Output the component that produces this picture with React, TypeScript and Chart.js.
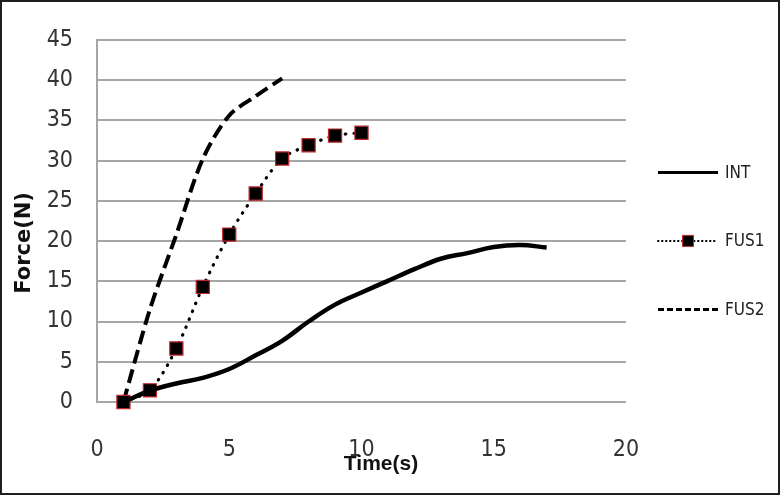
import React, { useEffect, useRef } from "react";
import { Chart, registerables } from "chart.js";

Chart.register(...registerables);

// ---- data ----
const INT_TIME = [1, 2, 3, 4, 5, 6, 7, 8, 9, 10, 11, 12, 13, 14, 15, 16, 17];
const INT_FORCE = [0, 1.4, 2.3, 3.0, 4.1, 5.8, 7.6, 10.0, 12.1, 13.6, 15.05, 16.5, 17.8, 18.5, 19.25, 19.5, 19.2];

const FUS1_TIME = [1, 2, 3, 4, 5, 6, 7, 8, 9, 10];
const FUS1_FORCE = [0, 1.45, 6.65, 14.3, 20.8, 25.9, 30.25, 31.9, 33.1, 33.45];

const FUS2_TIME = [1, 2, 3, 4, 5, 6, 7];
const FUS2_FORCE = [0, 11.5, 20.8, 30.2, 35.6, 38.0, 40.2];

const SERIES_LABELS = ["INT", "FUS1", "FUS2"];
const X_TITLE = "Time(s)";
const Y_TITLE = "Force(N)";
const X_MIN = 0;
const X_MAX = 20;
const X_STEP = 5;
const Y_MIN = 0;
const Y_MAX = 45;
const Y_STEP = 5;

const TICK_FONT = "'Liberation Sans Narrow', 'DejaVu Sans Condensed', 'Liberation Sans', sans-serif";

const toPoints = (xs: number[], ys: number[]) => xs.map((x, i) => ({ x, y: ys[i] }));

const overlayPlugin = {
  id: "overlay",
  afterDraw(chart: any) {
    const ctx: CanvasRenderingContext2D = chart.ctx;
    const { left, right, top, bottom } = chart.chartArea;
    ctx.save();

    // Y axis title
    ctx.fillStyle = "#111";
    ctx.font = "bold 21px 'DejaVu Sans', sans-serif";
    ctx.textAlign = "center";
    ctx.textBaseline = "middle";
    ctx.save();
    ctx.translate(left - 72, (top + bottom) / 2 + 22);
    ctx.rotate(-Math.PI / 2);
    ctx.fillText(Y_TITLE, 0, 0);
    ctx.restore();

    // X axis title
    ctx.font = "bold 21px 'Liberation Sans', sans-serif";
    ctx.fillText(X_TITLE, (left + right) / 2 + 19.5, bottom + 62);

    // Legend
    const lx = right + 32;
    const lineLen = 60;
    const centerY = (top + bottom) / 2 + 20;
    const gap = 68.5;
    chart.data.datasets.forEach((ds: any, i: number) => {
      const y = centerY + (i - 1) * gap;
      ctx.save();
      ctx.strokeStyle = "#000";
      ctx.lineWidth = ds._legendWidth;
      ctx.lineCap = ds.borderCapStyle || "butt";
      ctx.setLineDash(ds._legendDash || []);
      ctx.beginPath();
      ctx.moveTo(lx, y);
      ctx.lineTo(lx + lineLen, y);
      ctx.stroke();
      ctx.restore();
      if (ds.pointRadius && ds.pointRadius > 0) {
        const s = 11;
        ctx.fillStyle = ds.pointBackgroundColor;
        ctx.fillRect(lx + lineLen / 2 - s / 2, y - s / 2, s, s);
        ctx.strokeStyle = ds.pointBorderColor;
        ctx.lineWidth = 1;
        ctx.strokeRect(lx + lineLen / 2 - s / 2, y - s / 2, s, s);
      }
      ctx.fillStyle = "#222";
      ctx.font = `17px ${TICK_FONT}`;
      ctx.textAlign = "left";
      ctx.textBaseline = "middle";
      ctx.fillText(ds.label, lx + lineLen + 7, y + 1);
    });

    ctx.restore();
  },
};

export default function App() {
  const canvasRef = useRef<HTMLCanvasElement | null>(null);

  useEffect(() => {
    document.body.style.margin = "0";
    const canvas = canvasRef.current;
    if (!canvas) return;
    const chart = new Chart(canvas, {
      type: "line",
      data: {
        datasets: [
          {
            label: SERIES_LABELS[0],
            data: toPoints(INT_TIME, INT_FORCE),
            borderColor: "#000",
            borderWidth: 4.5,
            tension: 0.4,
            pointRadius: 0,
            clip: false,
            _legendWidth: 3,
            _legendDash: [],
          } as any,
          {
            label: SERIES_LABELS[1],
            data: toPoints(FUS1_TIME, FUS1_FORCE),
            borderColor: "#000",
            borderWidth: 3.2,
            borderDash: [0.5, 8],
            borderCapStyle: "round",
            tension: 0.3,
            pointStyle: "rect",
            pointRadius: 9.3,
            pointBackgroundColor: "#000",
            pointBorderColor: "#c0272d",
            pointBorderWidth: 1.2,
            clip: false,
            _legendWidth: 2,
            _legendDash: [0.5, 3.5],
          } as any,
          {
            label: SERIES_LABELS[2],
            data: toPoints(FUS2_TIME, FUS2_FORCE),
            borderColor: "#000",
            borderWidth: 4,
            borderDash: [14, 6],
            tension: 0.3,
            pointRadius: 0,
            clip: false,
            _legendWidth: 3,
            _legendDash: [6, 3],
          } as any,
        ],
      },
      options: {
        animation: false,
        responsive: false,
        layout: { padding: { left: 0, top: 26, right: 152, bottom: 0 } },
        plugins: {
          legend: { display: false },
          tooltip: { enabled: false },
        },
        scales: {
          x: {
            type: "linear",
            min: X_MIN,
            max: X_MAX,
            ticks: {
              stepSize: X_STEP,
              padding: 34,
              color: "#333",
              font: { family: TICK_FONT, size: 23 },
            },
            grid: { display: false, drawTicks: false },
            border: { display: false },
            afterFit: (scale: any) => {
              scale.height = 91;
            },
          },
          y: {
            type: "linear",
            min: Y_MIN,
            max: Y_MAX,
            ticks: {
              stepSize: Y_STEP,
              padding: 24,
              color: "#333",
              font: { family: TICK_FONT, size: 23 },
            },
            grid: { color: "#a6a6a6", lineWidth: 2, drawTicks: false },
            border: { display: true, color: "#a6a6a6", width: 2 },
            afterFit: (scale: any) => {
              scale.width = 95;
            },
          },
        },
      },
      plugins: [overlayPlugin],
    });
    return () => chart.destroy();
  }, []);

  return (
    <div
      style={{
        width: 780,
        height: 495,
        boxSizing: "border-box",
        border: "2px solid #1e1e1e",
        background: "#fff",
        overflow: "hidden",
      }}
    >
      <canvas ref={canvasRef} width={776} height={491} style={{ display: "block" }} />
    </div>
  );
}
